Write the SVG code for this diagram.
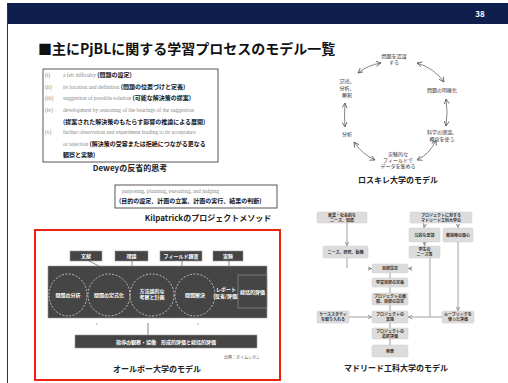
<svg xmlns="http://www.w3.org/2000/svg" width="508" height="383" viewBox="0 0 508 383">
<style>
.jp{font-family:"Noto Sans CJK JP","Noto Sans",sans-serif}
.en{font-family:"Liberation Serif",serif;fill:#888;font-size:5.5px}
.dj{font-family:"Noto Sans CJK JP",sans-serif;fill:#111;font-size:6px;font-weight:bold}
.cap{font-family:"Noto Sans CJK JP",sans-serif;fill:#222;font-size:8px;font-weight:bold;text-anchor:middle}
.rk{font-family:"Noto Sans CJK JP",sans-serif;fill:#333;font-size:5px;text-anchor:middle}
.rka{fill:none;stroke:#666;stroke-width:0.8}
.ab{fill:#454545;stroke:#999;stroke-width:0.6}
.aw{font-family:"Noto Sans CJK JP",sans-serif;fill:#fff;font-size:5px;font-weight:bold;text-anchor:middle}
.el{fill:none;stroke:#eee;stroke-width:0.7;stroke-dasharray:2 1.5}
.mb{fill:#dcdcdc;stroke:#ccc;stroke-width:0.5}
.mt{font-family:"Noto Sans CJK JP",sans-serif;fill:#333;font-size:4px;font-weight:bold;text-anchor:middle}
.ml{fill:none;stroke:#888;stroke-width:0.8}
</style>
<defs>
<marker id="ah" markerWidth="6" markerHeight="6" refX="5" refY="3" orient="auto-start-reverse" markerUnits="userSpaceOnUse">
<path d="M0,0.5 L5,3 L0,5.5" fill="none" stroke="#555" stroke-width="0.8"/>
</marker>
<marker id="mh" markerWidth="5" markerHeight="5" refX="4" refY="2.5" orient="auto" markerUnits="userSpaceOnUse">
<path d="M0,0.5 L4,2.5 L0,4.5" fill="none" stroke="#777" stroke-width="0.7"/>
</marker>
</defs>
<rect width="508" height="383" fill="#fff"/>
<rect x="7" y="3" width="501" height="21" fill="#0e1e4d"/>
<line x1="7.5" y1="3" x2="7.5" y2="383" stroke="#333" stroke-width="1"/>
<text x="480" y="17" class="jp" font-size="8" font-weight="bold" fill="#fff" text-anchor="middle">38</text>
<text x="38" y="54" class="jp" font-size="14" font-weight="bold" fill="#111">■主にPjBLに関する学習プロセスのモデル一覧</text>

<g id="dewey">
<rect x="43" y="69" width="175" height="93" fill="#fff" stroke="#444" stroke-width="0.9"/>
<text x="45" y="77" class="en">(i)</text>
<text x="63" y="77"><tspan class="en">a felt difficulty </tspan><tspan class="dj">(問題の設定)</tspan></text>
<text x="45" y="89" class="en">(ii)</text>
<text x="63" y="89"><tspan class="en">its location and definition </tspan><tspan class="dj">(問題の位置づけと定義)</tspan></text>
<text x="45" y="100" class="en">(iii)</text>
<text x="63" y="100"><tspan class="en">suggestion of possible solution </tspan><tspan class="dj">(可能な解決策の提案)</tspan></text>
<text x="45" y="112" class="en">(iv)</text>
<text x="63" y="112" class="en">development by reasoning of the bearings of the suggestion</text>
<text x="63" y="124" class="dj">(提案された解決策のもたらす影響の推論による展開)</text>
<text x="45" y="134" class="en">(v)</text>
<text x="63" y="134" class="en">further observation and experiment leading to its acceptance</text>
<text x="63" y="146"><tspan class="en">or rejection </tspan><tspan class="dj">(解決策の受容または拒絶につながる更なる</tspan></text>
<text x="63" y="157" class="dj">観察と実験)</text>
<text x="130" y="171" class="cap">Deweyの反省的思考</text>
</g>

<g id="kilpatrick">
<rect x="115" y="185" width="162" height="23" fill="#fff" stroke="#444" stroke-width="0.9"/>
<text x="122" y="193" class="en">purposing, planning, executing, and judging</text>
<text x="119" y="203" class="dj">(目的の設定、計画の立案、計画の実行、結果の判断)</text>
<text x="208" y="221" class="cap">Kilpatrickのプロジェクトメソッド</text>
</g>

<g id="roskilde">
<text x="394" y="58" class="rk">問題を認識</text>
<text x="394" y="64" class="rk">する</text>
<text x="442" y="92" class="rk">問題の明確化</text>
<text x="442" y="134" class="rk">科学の理論、</text>
<text x="442" y="141" class="rk">概念を使う</text>
<text x="398" y="156" class="rk">実験的な</text>
<text x="398" y="162" class="rk">フィールドで</text>
<text x="398" y="168" class="rk">データを集める</text>
<text x="347" y="136" class="rk">分析</text>
<text x="347" y="83" class="rk">記述、</text>
<text x="347" y="90" class="rk">分析、</text>
<text x="347" y="97" class="rk">解釈</text>
<text x="398" y="183" class="cap" font-size="7.5">ロスキレ大学のモデル</text>
</g>

<g id="aalborg">
<rect x="35" y="230" width="245" height="150" fill="none" stroke="#e21" stroke-width="2"/>
<rect x="70" y="251" width="32" height="10" class="ab"/>
<text x="86" y="258" class="aw">文献</text>
<rect x="115" y="251" width="33" height="10" class="ab"/>
<text x="131.5" y="258" class="aw">理論</text>
<rect x="160" y="251" width="42" height="10" class="ab"/>
<text x="181" y="258" class="aw">フィールド調査</text>
<rect x="213" y="251" width="30" height="10" class="ab"/>
<text x="228" y="258" class="aw">実験</text>
<line x1="89" y1="261" x2="99" y2="266" stroke="#555" stroke-width="0.7"/>
<line x1="132" y1="261" x2="132" y2="266" stroke="#555" stroke-width="0.7"/>
<line x1="182" y1="261" x2="182" y2="266" stroke="#555" stroke-width="0.7"/>
<line x1="229" y1="261" x2="229" y2="266" stroke="#555" stroke-width="0.7"/>
<rect x="48" y="266" width="219" height="52" class="ab"/>
<ellipse cx="68" cy="295" rx="19" ry="21" class="el"/>
<ellipse cx="109" cy="295" rx="21" ry="21" class="el"/>
<ellipse cx="152" cy="295" rx="22" ry="21" class="el"/>
<ellipse cx="195" cy="295" rx="20" ry="21" class="el"/>
<text x="68" y="297" class="aw">問題の分析</text>
<text x="109" y="297" class="aw">問題の定式化</text>
<text x="152" y="293" class="aw">方法論的な</text>
<text x="152" y="299" class="aw">考察と計画</text>
<text x="195" y="297" class="aw">問題解決</text>
<text x="226" y="291" class="aw">レポート</text>
<text x="226" y="298" class="aw">(反省/評価)</text>
<rect x="238" y="275" width="29" height="33" class="ab" stroke="#bbb"/>
<text x="252.5" y="294" class="aw">総括的評価</text>
<circle cx="97" cy="324" r="0.6" fill="#555"/>
<circle cx="198" cy="324" r="0.6" fill="#555"/>
<line x1="148" y1="323" x2="148" y2="335" stroke="#555" stroke-width="0.7"/>
<rect x="75" y="335" width="182" height="13" class="ab"/>
<text x="166" y="344" class="aw">指導の観察・協働　形成的評価と総括的評価</text>
<text x="242" y="359" class="jp" font-size="4" fill="#555" text-anchor="middle">出典：ダイムンボン</text>
<text x="157" y="372" class="cap">オールボー大学のモデル</text>
</g>

<g id="madrid">
<rect x="317" y="212" width="50" height="11" rx="1.5" class="mb"/>
<text x="342" y="216.5" class="mt">産業・社会的な</text>
<text x="342" y="221.5" class="mt">ニーズ、知識</text>
<rect x="323" y="246" width="45" height="12" rx="1.5" class="mb"/>
<text x="345.5" y="253.5" class="mt">ニーズ、研究、動機</text>
<rect x="410" y="212" width="62" height="11" rx="1.5" class="mb"/>
<text x="441" y="216.5" class="mt">プロジェクトに対する</text>
<text x="441" y="221.5" class="mt">マドリード工科大学の</text>
<rect x="409" y="228" width="31" height="14" rx="1.5" class="mb"/>
<text x="424.5" y="236.5" class="mt">公的な要請</text>
<rect x="443" y="228" width="30" height="14" rx="1.5" class="mb"/>
<text x="458" y="236.5" class="mt">教授陣の関心</text>
<rect x="409" y="246" width="31" height="12" rx="1.5" class="mb"/>
<text x="424.5" y="251" class="mt">学生の</text>
<text x="424.5" y="256" class="mt">ニーズ等</text>
<rect x="372" y="264" width="36" height="9" rx="1.5" class="mb"/>
<text x="390" y="270" class="mt">目標設定</text>
<rect x="372" y="278" width="36" height="9" rx="1.5" class="mb"/>
<text x="390" y="284" class="mt">学習目標の定義</text>
<rect x="372" y="293" width="36" height="12" rx="1.5" class="mb"/>
<text x="390" y="298" class="mt">プロジェクトの展</text>
<text x="390" y="303" class="mt">開、目標の設定</text>
<rect x="372" y="311" width="36" height="12" rx="1.5" class="mb"/>
<text x="390" y="316" class="mt">プロジェクトの</text>
<text x="390" y="321" class="mt">実施</text>
<rect x="372" y="328" width="36" height="11" rx="1.5" class="mb"/>
<text x="390" y="332.5" class="mt">プロジェクトの</text>
<text x="390" y="337.5" class="mt">最終評価</text>
<rect x="372" y="345" width="36" height="12" rx="1.5" class="mb"/>
<text x="390" y="352.5" class="mt">発表</text>
<rect x="317" y="311" width="32" height="12" rx="1.5" class="mb"/>
<text x="333" y="316" class="mt">ケーススタディ</text>
<text x="333" y="321" class="mt">を取り入れる</text>
<rect x="442" y="311" width="32" height="12" rx="1.5" class="mb"/>
<text x="458" y="316" class="mt">ルーブリックを</text>
<text x="458" y="321" class="mt">使った評価</text>
<text x="396" y="371" class="cap">マドリード工科大学のモデル</text>
</g>

<g id="connectors">
<path d="M358,73 Q368,65 381,63" class="rka" marker-start="url(#ah)" marker-end="url(#ah)"/>
<path d="M417,63 Q434,68 444,82" class="rka" marker-start="url(#ah)" marker-end="url(#ah)"/>
<path d="M446,99 Q448,112 446,126" class="rka" marker-start="url(#ah)" marker-end="url(#ah)"/>
<path d="M436,140 Q430,154 417,160" class="rka" marker-start="url(#ah)" marker-end="url(#ah)"/>
<path d="M375,160 Q362,154 354,142" class="rka" marker-start="url(#ah)" marker-end="url(#ah)"/>
<path d="M345,103 Q344,115 345,127" class="rka" marker-start="url(#ah)" marker-end="url(#ah)"/>

<line x1="347" y1="223" x2="347" y2="245.5" class="ml" marker-end="url(#mh)"/>
<line x1="347" y1="258" x2="347" y2="268" class="ml"/>
<line x1="425" y1="224" x2="424" y2="227.5" class="ml" marker-end="url(#mh)"/>
<line x1="458" y1="224" x2="458" y2="227.5" class="ml" marker-end="url(#mh)"/>
<line x1="424.5" y1="242" x2="424.5" y2="245.5" class="ml" marker-end="url(#mh)"/>
<line x1="458" y1="242" x2="458" y2="310.5" class="ml" marker-end="url(#mh)"/>
<line x1="430" y1="258" x2="430" y2="317" class="ml"/>
<line x1="442" y1="317" x2="408.5" y2="317" class="ml" marker-end="url(#mh)"/>
<line x1="349" y1="317" x2="371.5" y2="317" class="ml" marker-end="url(#mh)"/>
<line x1="368" y1="268.5" x2="371.5" y2="268.5" class="ml" marker-end="url(#mh)"/>
<line x1="412" y1="268.5" x2="408.5" y2="268.5" class="ml" marker-end="url(#mh)"/>
<line x1="390" y1="273" x2="390" y2="278" class="ml"/>
<line x1="390" y1="287" x2="390" y2="293" class="ml"/>
<line x1="390" y1="305" x2="390" y2="311" class="ml"/>
<line x1="390" y1="323" x2="390" y2="328" class="ml"/>
<line x1="390" y1="339" x2="390" y2="345" class="ml"/>
</g>
</svg>
